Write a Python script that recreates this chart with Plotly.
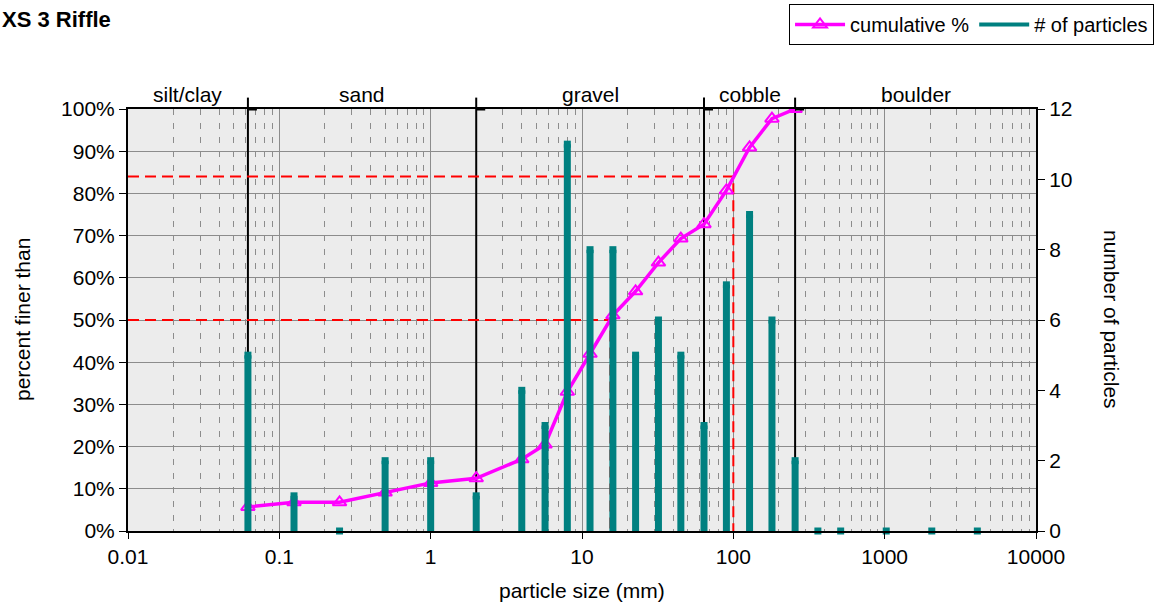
import numpy as np
import plotly.graph_objects as go

# particle size classes (mm) and counts per class
sizes = [0.062, 0.125, 0.25, 0.5, 1, 2, 4, 5.7, 8, 11.3, 16, 22.6, 32, 45, 64, 90,
         128, 180, 256, 362, 512, 1024, 2048, 4096]
counts = [5, 1, 0, 2, 2, 1, 4, 3, 11, 8, 8, 5, 6, 5, 3, 7, 9, 6, 2, 0, 0, 0, 0, 0]

# cumulative percent finer (ends at 256 mm)
cum_sizes = [0.062, 0.125, 0.25, 0.5, 1, 2, 4, 5.7, 8, 11.3, 16, 22.6, 32, 45, 64, 90,
             128, 180, 256]
cum_pct = [5.7, 6.8, 6.8, 9.1, 11.4, 12.5, 17.0, 20.5, 33.0, 42.0, 51.1, 56.8, 63.6,
           69.3, 72.7, 80.7, 90.9, 97.7, 100.0]

# D50 / D84 guide values
d_pct = [50, 84]
d_size = [15.4, 100]

# size class boundaries and names
boundaries = [0.062, 2, 64, 256]
class_edges = [0.01, 0.062, 2, 64, 256, 10000]
class_names = ["silt/clay", "sand", "gravel", "cobble", "boulder"]

x_ticks = [0.01, 0.1, 1, 10, 100, 1000, 10000]
x_labels = ["0.01", "0.1", "1", "10", "100", "1000", "10000"]
y_ticks = list(range(0, 101, 10))
y_labels = [f"{v}%" for v in y_ticks]

FONT = "Liberation Sans, Arial, sans-serif"
TEAL = "#008080"
MAGENTA = "#FF00FF"

fig = go.Figure()

# class boundary lines inside the plot (under the bars)
bx, by = [], []
for b in boundaries:
    bx += [b, b, None]
    by += [0, 100, None]
fig.add_trace(go.Scatter(x=bx, y=by, mode="lines", line=dict(color="black", width=2),
                         showlegend=False, hoverinfo="skip"))

# particle count bars (drawn as thick error bars down to zero)
fig.add_trace(go.Scatter(
    x=sizes, y=counts, yaxis="y2", mode="markers",
    marker=dict(symbol="square", size=7, color=TEAL, line=dict(width=0)),
    error_y=dict(type="data", symmetric=False, array=[0] * len(counts),
                 arrayminus=counts, thickness=7, width=0, color=TEAL),
    cliponaxis=False, showlegend=False, hoverinfo="x+y",
))

# D50 / D84 red dashed guides
for p, s in zip(d_pct, d_size):
    fig.add_trace(go.Scatter(
        x=[x_ticks[0], s, s], y=[p, p, 0], mode="lines",
        line=dict(color="#FF0000", width=2, dash="11px,6px"),
        showlegend=False, hoverinfo="skip",
    ))

# cumulative curve
fig.add_trace(go.Scatter(
    x=cum_sizes, y=cum_pct, mode="lines+markers", name="cumulative %",
    line=dict(color=MAGENTA, width=3.5),
    marker=dict(symbol="triangle-up-open", size=12, color=MAGENTA, line=dict(width=2)),
))

# legend-only entry for the counts
fig.add_trace(go.Scatter(
    x=[None], y=[None], yaxis="y2", mode="lines", name="# of particles",
    line=dict(color=TEAL, width=4),
))

shapes = []
for b in boundaries:
    # part of the boundary line that sticks out above the plot, plus its cap
    shapes.append(dict(type="line", xref="x", yref="paper", x0=b, x1=b, y0=1.0, y1=1.027,
                       line=dict(color="black", width=2), layer="above"))
    shapes.append(dict(type="line", xref="x", yref="y", xsizemode="pixel", xanchor=b,
                       x0=-9, x1=9, y0=100, y1=100,
                       line=dict(color="black", width=3), layer="above"))

annotations = []
logs = np.log10(class_edges)
for name, lo, hi in zip(class_names, logs[:-1], logs[1:]):
    annotations.append(dict(text=name, xref="x", yref="paper", x=(lo + hi) / 2, y=1.0,
                            yshift=1, xanchor="center", yanchor="bottom", showarrow=False,
                            font=dict(size=21, color="black")))

annotations += [
    dict(text="<b>XS 3 Riffle</b>", xref="paper", yref="paper", x=-0.1405, y=1.211,
         xanchor="left", yanchor="middle", showarrow=False, font=dict(size=22)),
    dict(text="percent finer than", xref="paper", yref="paper", x=-0.1167, y=0.5,
         xanchor="center", yanchor="middle", textangle=-90, showarrow=False,
         font=dict(size=21)),
    dict(text="number of particles", xref="paper", yref="paper", x=1.0837, y=0.5,
         xanchor="center", yanchor="middle", textangle=90, showarrow=False,
         font=dict(size=21)),
    dict(text="particle size (mm)", xref="paper", yref="paper", x=0.5, y=-0.14,
         xanchor="center", yanchor="middle", showarrow=False, font=dict(size=21)),
]

fig.update_layout(
    width=1162, height=605,
    margin=dict(l=128, r=126, t=109, b=74, autoexpand=False),
    paper_bgcolor="white", plot_bgcolor="#ECECEC",
    font=dict(family=FONT, size=21, color="black"),
    xaxis=dict(
        type="log", range=[-2, 4], tickvals=x_ticks, ticktext=x_labels,
        ticks="outside", ticklen=6, tickcolor="black", tickwidth=1,
        showline=True, linecolor="black", linewidth=2, mirror=True,
        showgrid=True, gridcolor="#8C8C8C", gridwidth=1, zeroline=False,
        minor=dict(dtick="D1", showgrid=True, gridcolor="#8C8C8C", gridwidth=1,
                   griddash="6px,8px", ticks=""),
    ),
    yaxis=dict(
        range=[0, 100], tickvals=y_ticks, ticktext=y_labels,
        ticks="outside", ticklen=7, tickcolor="black",
        showline=True, linecolor="black", linewidth=2, mirror=True,
        showgrid=True, gridcolor="#8C8C8C", gridwidth=1, zeroline=False,
    ),
    yaxis2=dict(
        overlaying="y", side="right", range=[0, 12], dtick=2,
        ticks="outside", ticklen=7, tickcolor="black",
        showline=True, linecolor="black", linewidth=2,
        showgrid=False, zeroline=False,
    ),
    legend=dict(
        orientation="h", x=1.13, xanchor="right", y=1.249, yanchor="top",
        bordercolor="black", borderwidth=1, bgcolor="white",
        font=dict(size=20), itemwidth=50, tracegroupgap=0,
    ),
    shapes=shapes,
    annotations=annotations,
    showlegend=True,
)

# drop the page's default body margin so the figure sits at the window origin
fig.write_html("out.html", config={"displayModeBar": False},
               post_script="document.body.style.margin = '0';")
